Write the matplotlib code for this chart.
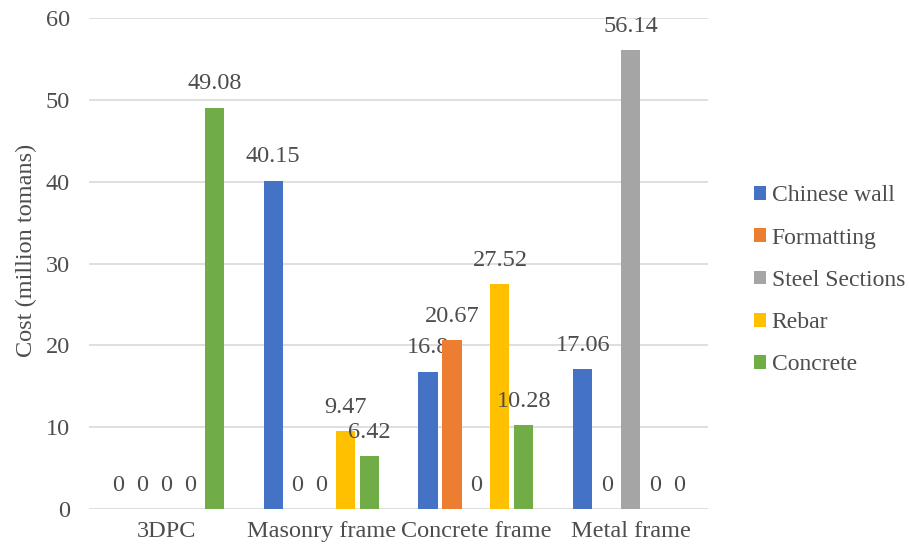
import matplotlib.pyplot as plt
import numpy as np

categories = ["3DPC", "Masonry frame", "Concrete frame", "Metal frame"]
series = ["Chinese wall", "Formatting", "Steel Sections", "Rebar", "Concrete"]
chinese_wall = [0, 40.15, 16.8, 17.06]
formatting = [0, 0, 20.67, 0]
steel_sections = [0, 0, 0, 56.14]
rebar = [0, 9.47, 27.52, 0]
concrete = [49.08, 6.42, 10.28, 0]
values = [chinese_wall, formatting, steel_sections, rebar, concrete]
colors = ["#4472C4", "#ED7D31", "#A5A5A5", "#FFC000", "#70AD47"]

plt.rcParams["font.family"] = ["Liberation Serif", "DejaVu Serif"]
text_color = "#4D4D4D"
fs = 17.5

fig = plt.figure(figsize=(9.09, 5.52), dpi=100)
ax = fig.add_axes([0.098, 0.078, 0.681, 0.889])

x = np.arange(len(categories))
pitch = 0.155
width = 0.123
for i, (name, vals, col) in enumerate(zip(series, values, colors)):
    pos = x + (i - 2) * pitch
    ax.bar(pos, vals, width=width, color=col, label=name, zorder=3)
    for px, v in zip(pos, vals):
        ax.annotate(f"{v:g}", (px, v), xytext=(0, 17), textcoords="offset points",
                    ha="center", va="center", fontsize=fs, color=text_color)

ax.set_xlim(-0.5, len(categories) - 0.5)
ax.set_ylim(0, 60)
ax.set_yticks(range(0, 61, 10))
ax.set_xticks(x)
ax.set_xticklabels(categories)
ax.tick_params(axis="both", length=0, labelsize=fs, labelcolor=text_color)
ax.tick_params(axis="x", pad=9)
ax.tick_params(axis="y", pad=14)
ax.grid(axis="y", color="#D9D9D9", lw=1.2, zorder=0)
for s in ax.spines.values():
    s.set_visible(False)
ax.set_ylabel("Cost (million tomans)", fontsize=fs, color=text_color, labelpad=6, y=0.527)

leg = fig.legend(loc="center left", bbox_to_anchor=(0.829, 0.492), frameon=False,
                 fontsize=17, handlelength=0.52, handleheight=0.52, handletextpad=0.25,
                 labelspacing=0.9, labelcolor=text_color, borderpad=0, borderaxespad=0)

fig.savefig("out.png", dpi=100)
